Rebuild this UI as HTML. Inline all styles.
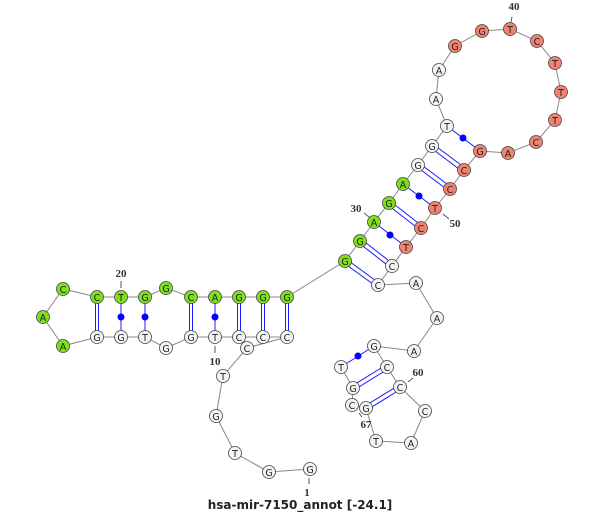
<!DOCTYPE html>
<html><head><style>body{margin:0;background:#fff}svg{display:block}</style></head><body>
<svg width="600" height="515" xmlns="http://www.w3.org/2000/svg" font-family="DejaVu Sans, Liberation Sans, sans-serif">
<g stroke="#888" stroke-width="1" fill="none">
<polyline points="310,469 269,472 235,453 216,416 223,376 247,348 287,337 263,337 239,337 215,337 191,337 166,348 145,337 121,337 97,337 63,346 43,317 63,289 97,297 121,297 145,297 166,288 191,297 215,297 239,297 263,297 287,297 345,261 360,241 374,222 389,203 403,184 418,165 432,146 447,126 436,99 439,70 455,46 482,31 510,29 537,41 555,63 561,92 555,120 536,142 508,153 480,151 464,170 450,189 435,208 421,228 406,247 392,266 378,285 416,283 437,318 414,351 374,346 387,367 400,387 425,411 411,443 376,441 366,408 352,405 353,388 341,367"/>
</g>
<g stroke="#1a1aff" stroke-width="1">
<line x1="95.5" y1="297" x2="95.5" y2="337"/><line x1="98.5" y1="297" x2="98.5" y2="337"/>
<line x1="121" y1="297" x2="121" y2="337"/><line x1="145" y1="297" x2="145" y2="337"/>
<line x1="189.5" y1="297" x2="189.5" y2="337"/><line x1="192.5" y1="297" x2="192.5" y2="337"/>
<line x1="215" y1="297" x2="215" y2="337"/>
<line x1="237.5" y1="297" x2="237.5" y2="337"/><line x1="240.5" y1="297" x2="240.5" y2="337"/>
<line x1="261.5" y1="297" x2="261.5" y2="337"/><line x1="264.5" y1="297" x2="264.5" y2="337"/>
<line x1="285.5" y1="297" x2="285.5" y2="337"/><line x1="288.5" y1="297" x2="288.5" y2="337"/>
<line x1="344" y1="263" x2="377" y2="287"/><line x1="346" y1="259" x2="379" y2="283"/>
<line x1="359" y1="243" x2="391" y2="268"/><line x1="361" y1="239" x2="393" y2="264"/>
<line x1="374" y1="222" x2="406" y2="247"/>
<line x1="388" y1="205" x2="420" y2="230"/><line x1="390" y1="201" x2="422" y2="226"/>
<line x1="403" y1="184" x2="435" y2="208"/>
<line x1="417" y1="167" x2="449" y2="191"/><line x1="419" y1="163" x2="451" y2="187"/>
<line x1="431" y1="148" x2="463" y2="172"/><line x1="433" y1="144" x2="465" y2="168"/>
<line x1="447" y1="126" x2="480" y2="151"/>
<line x1="374" y1="346" x2="341" y2="367"/>
<line x1="386" y1="365" x2="352" y2="386"/><line x1="388" y1="369" x2="354" y2="390"/>
<line x1="399" y1="385" x2="365" y2="406"/><line x1="401" y1="389" x2="367" y2="410"/>
</g>
<g fill="#0000ff">
<circle cx="121" cy="317" r="3.5"/><circle cx="145" cy="317" r="3.5"/><circle cx="215" cy="317" r="3.5"/>
<circle cx="390" cy="235" r="3.5"/><circle cx="419" cy="196" r="3.5"/><circle cx="463" cy="138" r="3.5"/><circle cx="358" cy="356" r="3.5"/>
</g>
<g stroke="#555" stroke-width="1">
<line x1="121" y1="281" x2="121" y2="288"/><line x1="215" y1="346" x2="215" y2="353"/>
<line x1="364" y1="213" x2="369" y2="217"/><line x1="443" y1="214" x2="449" y2="219"/>
<line x1="512" y1="17" x2="511" y2="22"/><line x1="413" y1="378" x2="408" y2="382"/>
<line x1="359" y1="413" x2="362" y2="417"/><line x1="309" y1="478" x2="309" y2="484"/>
</g>
<g stroke="#444" stroke-width="0.8">
<g fill="#f4f4f4">
<circle cx="310" cy="469" r="6.5"/><circle cx="269" cy="472" r="6.5"/><circle cx="235" cy="453" r="6.5"/><circle cx="216" cy="416" r="6.5"/><circle cx="223" cy="376" r="6.5"/><circle cx="247" cy="348" r="6.5"/><circle cx="287" cy="337" r="6.5"/><circle cx="263" cy="337" r="6.5"/><circle cx="239" cy="337" r="6.5"/><circle cx="215" cy="337" r="6.5"/><circle cx="191" cy="337" r="6.5"/><circle cx="166" cy="348" r="6.5"/><circle cx="145" cy="337" r="6.5"/><circle cx="121" cy="337" r="6.5"/><circle cx="97" cy="337" r="6.5"/>
<circle cx="447" cy="126" r="6.5"/><circle cx="436" cy="99" r="6.5"/><circle cx="439" cy="70" r="6.5"/><circle cx="432" cy="146" r="6.5"/><circle cx="418" cy="165" r="6.5"/>
<circle cx="392" cy="266" r="6.5"/><circle cx="378" cy="285" r="6.5"/><circle cx="416" cy="283" r="6.5"/><circle cx="437" cy="318" r="6.5"/><circle cx="414" cy="351" r="6.5"/><circle cx="374" cy="346" r="6.5"/><circle cx="387" cy="367" r="6.5"/><circle cx="400" cy="387" r="6.5"/><circle cx="425" cy="411" r="6.5"/><circle cx="411" cy="443" r="6.5"/><circle cx="376" cy="441" r="6.5"/><circle cx="366" cy="408" r="6.5"/><circle cx="352" cy="405" r="6.5"/><circle cx="353" cy="388" r="6.5"/><circle cx="341" cy="367" r="6.5"/>
</g>
<g fill="#7fe01a">
<circle cx="63" cy="346" r="6.5"/><circle cx="43" cy="317" r="6.5"/><circle cx="63" cy="289" r="6.5"/><circle cx="97" cy="297" r="6.5"/><circle cx="121" cy="297" r="6.5"/><circle cx="145" cy="297" r="6.5"/><circle cx="166" cy="288" r="6.5"/><circle cx="191" cy="297" r="6.5"/><circle cx="215" cy="297" r="6.5"/><circle cx="239" cy="297" r="6.5"/><circle cx="263" cy="297" r="6.5"/><circle cx="287" cy="297" r="6.5"/>
<circle cx="345" cy="261" r="6.5"/><circle cx="360" cy="241" r="6.5"/><circle cx="374" cy="222" r="6.5"/><circle cx="389" cy="203" r="6.5"/><circle cx="403" cy="184" r="6.5"/>
</g>
<g fill="#f08272">
<circle cx="455" cy="46" r="6.5"/><circle cx="482" cy="31" r="6.5"/><circle cx="510" cy="29" r="6.5"/><circle cx="537" cy="41" r="6.5"/><circle cx="555" cy="63" r="6.5"/><circle cx="561" cy="92" r="6.5"/><circle cx="555" cy="120" r="6.5"/><circle cx="536" cy="142" r="6.5"/><circle cx="508" cy="153" r="6.5"/><circle cx="480" cy="151" r="6.5"/><circle cx="464" cy="170" r="6.5"/><circle cx="450" cy="189" r="6.5"/><circle cx="435" cy="208" r="6.5"/><circle cx="421" cy="228" r="6.5"/><circle cx="406" cy="247" r="6.5"/>
</g>
</g>
<g font-size="9.5" text-anchor="middle" fill="#222">
<text x="310" y="473">G</text><text x="269" y="476">G</text><text x="235" y="457">T</text><text x="216" y="420">G</text><text x="223" y="380">T</text><text x="247" y="352">C</text><text x="287" y="341">C</text><text x="263" y="341">C</text><text x="239" y="341">C</text><text x="215" y="341">T</text><text x="191" y="341">G</text><text x="166" y="352">G</text><text x="145" y="341">T</text><text x="121" y="341">G</text><text x="97" y="341">G</text>
<text x="63" y="350">A</text><text x="43" y="321">A</text><text x="63" y="293">C</text><text x="97" y="301">C</text><text x="121" y="301">T</text><text x="145" y="301">G</text><text x="166" y="292">G</text><text x="191" y="301">C</text><text x="215" y="301">A</text><text x="239" y="301">G</text><text x="263" y="301">G</text><text x="287" y="301">G</text>
<text x="345" y="265">G</text><text x="360" y="245">G</text><text x="374" y="226">A</text><text x="389" y="207">G</text><text x="403" y="188">A</text><text x="418" y="169">G</text><text x="432" y="150">G</text><text x="447" y="130">T</text><text x="436" y="103">A</text><text x="439" y="74">A</text>
<text x="455" y="50">G</text><text x="482" y="35">G</text><text x="510" y="33">T</text><text x="537" y="45">C</text><text x="555" y="67">T</text><text x="561" y="96">T</text><text x="555" y="124">T</text><text x="536" y="146">C</text><text x="508" y="157">A</text><text x="480" y="155">G</text><text x="464" y="174">C</text><text x="450" y="193">C</text><text x="435" y="212">T</text><text x="421" y="232">C</text><text x="406" y="251">T</text><text x="392" y="270">C</text><text x="378" y="289">C</text>
<text x="416" y="287">A</text><text x="437" y="322">A</text><text x="414" y="355">A</text><text x="374" y="350">G</text><text x="387" y="371">C</text><text x="400" y="391">C</text><text x="425" y="415">C</text><text x="411" y="447">A</text><text x="376" y="445">T</text><text x="366" y="412">G</text><text x="352" y="409">C</text><text x="353" y="392">G</text><text x="341" y="371">T</text>
</g>
<g font-family="Liberation Serif, serif" font-weight="bold" font-size="11" fill="#333" text-anchor="middle">
<text x="121" y="277">20</text><text x="215" y="365">10</text><text x="356" y="212">30</text><text x="455" y="227">50</text><text x="514" y="10">40</text><text x="418" y="376">60</text><text x="366" y="428">67</text><text x="307" y="496">1</text>
</g>
<text x="300" y="509" text-anchor="middle" font-family="DejaVu Sans, sans-serif" font-size="12" font-weight="bold" fill="#222">hsa-mir-7150_annot [-24.1]</text>
</svg>
</body></html>
